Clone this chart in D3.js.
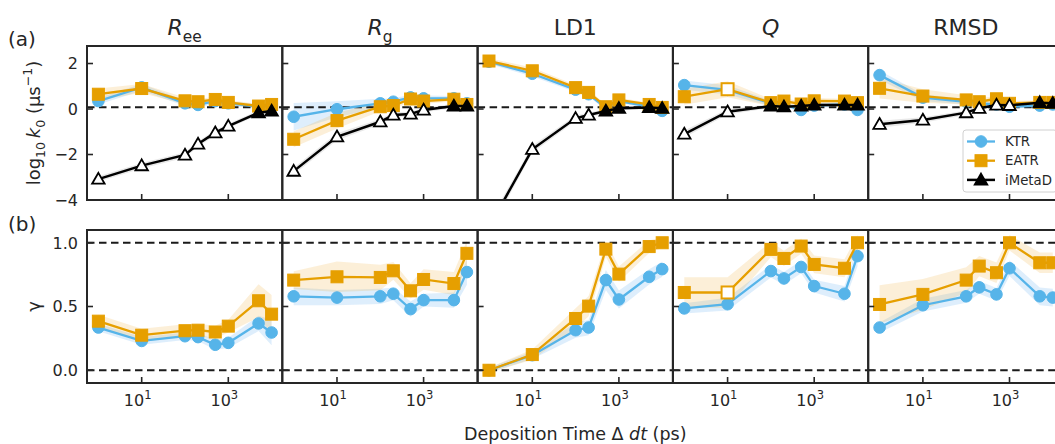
<!DOCTYPE html>
<html>
<head>
<meta charset="utf-8">
<title></title>
<style>
  body { margin: 0; background: #fff; font-family: "DejaVu Sans", sans-serif; }
  svg { display: block; }
  .tl { font-size: 16px; fill: #262626; }
</style>
<script src="https://d3js.org/d3.v7.min.js"></script>
</head>
<body>
<script>
// deposition times (ps)
var dt = [1, 10, 100, 200, 500, 1000, 5000, 10000]
var panelNames = ["Ree", "Rg", "LD1", "Q", "RMSD"]
var seriesNames = ["KTR", "EATR", "iMetaD"]

// (a) log10 k0, one row per panel
var ktrK0 = [
  [0.35, 0.95, 0.25, 0.18, 0.35, 0.25, 0.10, 0.15],
  [-0.34, -0.01, 0.25, 0.32, 0.51, 0.47, 0.47, 0.25],
  [2.08, 1.55, 0.85, 0.65, 0.05, 0.35, 0.10, -0.08],
  [1.05, 0.84, 0.25, 0.20, -0.04, 0.15, 0.20, -0.04],
  [1.49, 0.50, 0.32, 0.25, 0.20, 0.10, 0.15, 0.20]
]
var ktrK0Err = [
  [0.15, 0.15, 0.12, 0.12, 0.10, 0.10, 0.10, 0.10],
  [0.60, 0.35, 0.20, 0.15, 0.12, 0.12, 0.10, 0.10],
  [0.10, 0.12, 0.10, 0.10, 0.10, 0.08, 0.08, 0.08],
  [0.20, 0.20, 0.12, 0.10, 0.10, 0.10, 0.10, 0.10],
  [0.20, 0.15, 0.12, 0.10, 0.10, 0.08, 0.08, 0.08]
]
var eatrK0 = [
  [0.65, 0.90, 0.36, 0.32, 0.42, 0.29, 0.13, 0.20],
  [-1.33, -0.51, 0.10, 0.15, 0.44, 0.35, 0.43, 0.20],
  [2.11, 1.68, 0.94, 0.73, 0.10, 0.40, 0.20, 0.07],
  [0.54, 0.87, 0.28, 0.35, 0.22, 0.36, 0.35, 0.28],
  [0.91, 0.57, 0.40, 0.32, 0.45, 0.25, 0.29, 0.29]
]
var eatrK0Err = [
  [0.25, 0.20, 0.15, 0.12, 0.12, 0.10, 0.10, 0.10],
  [0.35, 0.35, 0.20, 0.15, 0.12, 0.12, 0.10, 0.10],
  [0.12, 0.15, 0.12, 0.12, 0.10, 0.10, 0.08, 0.08],
  [0.35, 0.35, 0.15, 0.12, 0.12, 0.12, 0.10, 0.10],
  [0.45, 0.30, 0.20, 0.15, 0.12, 0.10, 0.10, 0.10]
]
var metaK0 = [
  [-3.08, -2.49, -2.02, -1.54, -1.04, -0.75, -0.16, -0.09],
  [-2.73, -1.22, -0.56, -0.26, -0.22, -0.04, 0.13, 0.13],
  [-5.2, -1.77, -0.41, -0.26, -0.09, 0.03, 0.07, 0.03],
  [-1.10, -0.12, 0.13, 0.10, 0.13, 0.18, 0.18, 0.18],
  [-0.67, -0.48, -0.16, 0.03, 0.18, 0.16, 0.28, 0.25]
]
var metaK0Err = [
  [0.12, 0.12, 0.12, 0.12, 0.12, 0.10, 0.10, 0.10],
  [0.15, 0.15, 0.12, 0.12, 0.10, 0.10, 0.10, 0.10],
  [0.25, 0.15, 0.12, 0.10, 0.10, 0.08, 0.08, 0.08],
  [0.15, 0.12, 0.08, 0.08, 0.08, 0.08, 0.08, 0.08],
  [0.15, 0.12, 0.10, 0.10, 0.08, 0.08, 0.08, 0.08]
]
// 1 = filled marker, 0 = open marker
var metaFilled = [
  [0, 0, 0, 0, 0, 0, 1, 1],
  [0, 0, 0, 0, 0, 0, 1, 1],
  [0, 0, 0, 0, 1, 1, 1, 1],
  [0, 0, 1, 1, 1, 1, 1, 1],
  [0, 0, 0, 0, 0, 0, 1, 1]
]
var eatrFilled = [
  [1, 1, 1, 1, 1, 1, 1, 1],
  [1, 1, 1, 1, 1, 1, 1, 1],
  [1, 1, 1, 1, 1, 1, 1, 1],
  [1, 0, 1, 1, 1, 1, 1, 1],
  [1, 1, 1, 1, 1, 1, 1, 1]
]

// (b) gamma
var ktrG = [
  [0.335, 0.23, 0.267, 0.26, 0.20, 0.215, 0.367, 0.296],
  [0.58, 0.57, 0.58, 0.60, 0.48, 0.55, 0.55, 0.77],
  [0.0, 0.118, 0.314, 0.335, 0.707, 0.555, 0.733, 0.793],
  [0.485, 0.518, 0.778, 0.72, 0.81, 0.66, 0.60, 0.895],
  [0.335, 0.51, 0.58, 0.65, 0.595, 0.80, 0.58, 0.57]
]
var ktrGErr = [
  [0.03, 0.03, 0.03, 0.03, 0.04, 0.04, 0.06, 0.10],
  [0.07, 0.06, 0.06, 0.05, 0.06, 0.05, 0.06, 0.10],
  [0.02, 0.03, 0.06, 0.06, 0.08, 0.07, 0.06, 0.06],
  [0.04, 0.05, 0.05, 0.05, 0.05, 0.05, 0.06, 0.08],
  [0.04, 0.05, 0.05, 0.05, 0.05, 0.06, 0.07, 0.07]
]
var eatrG = [
  [0.385, 0.275, 0.31, 0.314, 0.30, 0.346, 0.545, 0.44],
  [0.707, 0.733, 0.728, 0.78, 0.623, 0.712, 0.68, 0.917],
  [0.0, 0.123, 0.406, 0.503, 0.95, 0.754, 0.97, 1.0],
  [0.61, 0.61, 0.948, 0.877, 0.974, 0.83, 0.80, 1.0],
  [0.516, 0.595, 0.707, 0.817, 0.765, 1.0, 0.843, 0.843]
]
var eatrGErr = [
  [0.05, 0.05, 0.05, 0.05, 0.05, 0.05, 0.13, 0.15],
  [0.07, 0.12, 0.10, 0.07, 0.06, 0.08, 0.09, 0.10],
  [0.02, 0.04, 0.08, 0.08, 0.06, 0.06, 0.05, 0.04],
  [0.12, 0.12, 0.06, 0.06, 0.06, 0.07, 0.07, 0.06],
  [0.15, 0.12, 0.10, 0.08, 0.08, 0.06, 0.08, 0.08]
]

var colors = { KTR: "#56B4E9", EATR: "#E69F00", iMetaD: "#000000" }
var bandColors = { KTR: "#4ea6ee", EATR: "#f0a830", iMetaD: "#707070" }
var ink = "#262626"

var W = 1055, H = 444
var left0 = 87, panelW = 195.3
var rowA = { top: 46, h: 154 }, rowB = { top: 230, h: 153 }

var svg = d3.select("body").append("svg")
  .attr("width", W).attr("height", H)
  .style("font-family", "'DejaVu Sans', sans-serif")

var x = d3.scaleLog().domain([0.546, 17660]).range([0, panelW])
var yA = d3.scaleLinear().domain([-4, 2.77]).range([rowA.h, 0])
var yB = d3.scaleLinear().domain([-0.1, 1.1]).range([rowB.h, 0])

var defs = svg.append("defs")
defs.append("clipPath").attr("id", "clipA").append("rect")
  .attr("width", panelW).attr("height", rowA.h)
defs.append("clipPath").attr("id", "clipB").append("rect")
  .attr("width", panelW).attr("height", rowB.h)

// write text made of pieces: {t, it, sub, sup}
function richText(sel, parts, size) {
  var shift = 0
  parts.forEach(function (p) {
    var ts = sel.append("tspan").text(p.t)
    var target = p.sub ? size * 0.3 : (p.sup ? -size * 0.42 : 0)
    ts.attr("dy", target - shift)
    shift = target
    if (p.sub || p.sup) ts.attr("font-size", size * 0.7)
    if (p.it) ts.attr("font-style", "italic")
  })
}

function marker(g, kind, cx, cy, filled, color) {
  var fill = filled ? color : "#fff"
  if (kind === "KTR") {
    g.append("circle").attr("cx", cx).attr("cy", cy).attr("r", 5.8)
      .attr("fill", fill).attr("stroke", color).attr("stroke-width", 1)
  } else if (kind === "EATR") {
    g.append("rect").attr("x", cx - 6).attr("y", cy - 6)
      .attr("width", 12).attr("height", 12)
      .attr("fill", fill).attr("stroke", color).attr("stroke-width", filled ? 1 : 2)
  } else {
    g.append("path").attr("transform", "translate(" + cx + "," + (cy + 1) + ")")
      .attr("d", d3.symbol().type(d3.symbolTriangle).size(68)())
      .attr("fill", fill).attr("stroke", "#000").attr("stroke-width", 1.8)
  }
}

function drawSeries(g, y, name, vals, errs, filled) {
  var pts = dt.map(function (d, i) { return { x: d, v: vals[i], e: errs[i], f: filled ? filled[i] : 1 } })
  var area = d3.area()
    .x(function (d) { return x(d.x) })
    .y0(function (d) { return y(d.v - d.e) })
    .y1(function (d) { return y(d.v + d.e) })
  g.append("path").attr("d", area(pts))
    .attr("fill", bandColors[name]).attr("fill-opacity", name === "iMetaD" ? 0.16 : 0.19)
  return pts
}

function drawLine(g, y, name, pts, lw) {
  var line = d3.line().x(function (d) { return x(d.x) }).y(function (d) { return y(d.v) })
  g.append("path").attr("d", line(pts)).attr("fill", "none")
    .attr("stroke", colors[name]).attr("stroke-width", lw)
  pts.forEach(function (d) { marker(g, name, x(d.x), y(d.v), d.f, colors[name]) })
}

function dashed(g, y, v) {
  g.append("line").attr("x1", 0).attr("x2", panelW)
    .attr("y1", y(v)).attr("y2", y(v))
    .attr("stroke", "#1a1a1a").attr("stroke-width", 2)
    .attr("stroke-dasharray", "7.5,4.5")
}

function frame(g, h, y, yTicks) {
  // inward ticks
  yTicks.forEach(function (t) {
    g.append("line").attr("x1", 0).attr("x2", 6).attr("y1", y(t)).attr("y2", y(t))
      .attr("stroke", ink).attr("stroke-width", 1.6)
  })
  ;[10, 1000].forEach(function (t) {
    g.append("line").attr("x1", x(t)).attr("x2", x(t)).attr("y1", h).attr("y2", h - 6)
      .attr("stroke", ink).attr("stroke-width", 1.6)
  })
  g.append("rect").attr("width", panelW).attr("height", h)
    .attr("fill", "none").attr("stroke", ink).attr("stroke-width", 2)
}

var titles = [
  [{ t: "R", it: 1 }, { t: "ee", sub: 1 }],
  [{ t: "R", it: 1 }, { t: "g", sub: 1 }],
  [{ t: "LD1" }],
  [{ t: "Q", it: 1 }],
  [{ t: "RMSD" }]
]

panelNames.forEach(function (name, p) {
  var px = left0 + panelW * p

  // ---- row (a) ----
  var ga = svg.append("g").attr("transform", "translate(" + px + "," + rowA.top + ")")
  var ca = ga.append("g").attr("clip-path", "url(#clipA)")
  var ktrPts = drawSeries(ca, yA, "KTR", ktrK0[p], ktrK0Err[p])
  var eatrPts = drawSeries(ca, yA, "EATR", eatrK0[p], eatrK0Err[p], eatrFilled[p])
  var metaPts = drawSeries(ca, yA, "iMetaD", metaK0[p], metaK0Err[p], metaFilled[p])
  dashed(ca, yA, 0.08)
  drawLine(ca, yA, "KTR", ktrPts, 2.3)
  drawLine(ca, yA, "EATR", eatrPts, 2.3)
  drawLine(ca, yA, "iMetaD", metaPts, 2.5)
  frame(ga, rowA.h, yA, [-4, -2, 0, 2])

  var tt = svg.append("text").attr("x", px + panelW / 2).attr("y", 35)
    .attr("text-anchor", "middle").attr("font-size", 22).attr("fill", ink)
  richText(tt, titles[p], 22)

  // ---- row (b) ----
  var gb = svg.append("g").attr("transform", "translate(" + px + "," + rowB.top + ")")
  var cb = gb.append("g").attr("clip-path", "url(#clipB)")
  var kg = drawSeries(cb, yB, "KTR", ktrG[p], ktrGErr[p])
  var eg = drawSeries(cb, yB, "EATR", eatrG[p], eatrGErr[p], eatrFilled[p])
  dashed(cb, yB, 0)
  dashed(cb, yB, 1)
  drawLine(cb, yB, "KTR", kg, 2.3)
  drawLine(cb, yB, "EATR", eg, 2.3)
  frame(gb, rowB.h, yB, [0, 0.5, 1])

  // x tick labels
  ;[1, 3].forEach(function (e) {
    var xt = svg.append("text").attr("class", "tl")
      .attr("x", px + x(Math.pow(10, e)) - 4).attr("y", rowB.top + rowB.h + 23)
      .attr("text-anchor", "middle")
    xt.append("tspan").text("10")
    xt.append("tspan").text(e).attr("font-size", 11.5).attr("dy", -7)
  })
})

// y tick labels (first panel only)
;[-4, -2, 0, 2].forEach(function (t) {
  svg.append("text").attr("class", "tl")
    .attr("x", 78).attr("y", rowA.top + yA(t)).attr("dy", "0.36em")
    .attr("text-anchor", "end").text(t < 0 ? "\u2212" + Math.abs(t) : t)
})
;[0, 0.5, 1].forEach(function (t) {
  svg.append("text").attr("class", "tl")
    .attr("x", 78).attr("y", rowB.top + yB(t)).attr("dy", "0.36em")
    .attr("text-anchor", "end").text(t.toFixed(1))
})

// axis labels
var yl = svg.append("text").attr("transform", "translate(40," + (rowA.top + rowA.h / 2) + ") rotate(-90)")
  .attr("text-anchor", "middle").attr("font-size", 18).attr("fill", ink)
richText(yl, [{ t: "log" }, { t: "10", sub: 1 }, { t: "\u2009" }, { t: "k", it: 1 }, { t: "0", sub: 1 },
  { t: " (\u00b5s" }, { t: "\u22121", sup: 1 }, { t: ")" }], 18)

svg.append("text").attr("transform", "translate(40," + (rowB.top + yB(0.5)) + ") rotate(-90)")
  .attr("text-anchor", "middle").attr("font-size", 18).attr("fill", ink).text("\u03b3")

var xl = svg.append("text").attr("x", left0 + panelW * 2.5).attr("y", 440)
  .attr("text-anchor", "middle").attr("font-size", 17.5).attr("fill", ink)
richText(xl, [{ t: "Deposition Time \u0394 " }, { t: "dt", it: 1 }, { t: " (ps)" }], 17.5)

svg.append("text").attr("x", 8).attr("y", 46).attr("font-size", 20).attr("fill", ink).text("(a)")
svg.append("text").attr("x", 8).attr("y", 231).attr("font-size", 20).attr("fill", ink).text("(b)")

// legend
var lg = svg.append("g").attr("transform", "translate(963,130)")
lg.append("rect").attr("width", 94).attr("height", 62).attr("rx", 3)
  .attr("fill", "#fff").attr("fill-opacity", 0.9).attr("stroke", "#d0d0d0").attr("stroke-width", 1)
seriesNames.forEach(function (s, i) {
  var cy = 11.5 + i * 19.2
  lg.append("line").attr("x1", 4).attr("x2", 32).attr("y1", cy).attr("y2", cy)
    .attr("stroke", colors[s]).attr("stroke-width", s === "iMetaD" ? 2.5 : 2.3)
  marker(lg, s, 18, cy, 1, colors[s])
  lg.append("text").attr("x", 42).attr("y", cy).attr("dy", "0.36em")
    .attr("font-size", 13.3).attr("fill", ink).text(s)
})
</script>
</body>
</html>
